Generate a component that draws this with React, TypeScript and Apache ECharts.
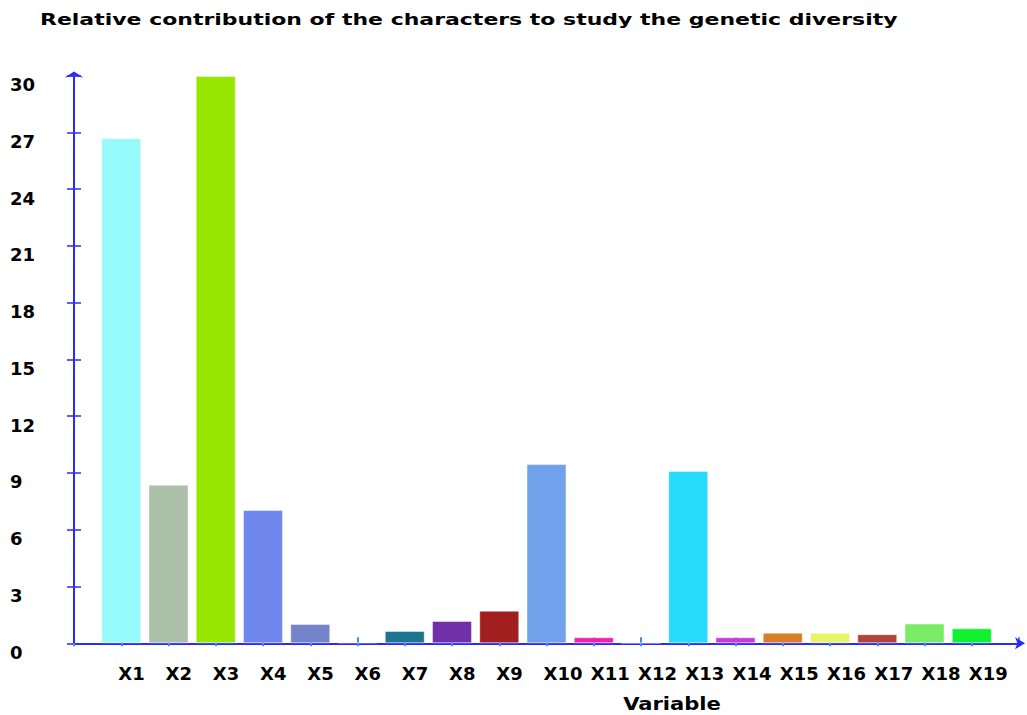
import React, { useEffect, useRef } from "react";
import * as echarts from "echarts";

const categories = ["X1","X2","X3","X4","X5","X6","X7","X8","X9","X10","X11","X12","X13","X14","X15","X16","X17","X18","X19"];
const contributions = [26.68, 8.38, 29.97, 7.04, 1.02, 0.05, 0.65, 1.18, 1.72, 9.47, 0.32, 0.03, 9.10, 0.32, 0.56, 0.56, 0.48, 1.04, 0.79];
const barColors = ["#96fafa","#abbfa9","#96e600","#7088ee","#7584c8","#9a4fa8","#1c7690","#7030a8","#a11f1f","#72a1ec","#f222a8","#a6a6c8","#27dbfa","#c83ae0","#d87f26","#e8f463","#b0443a","#78ec62","#10f230"];
const yTicks = { min: 0, max: 30, interval: 3 };
const titleText = "Relative contribution of the characters to study the genetic diversity";
const xName = "Variable";

const AXIS_BLUE = "#2a2aff";
const FONT = "DejaVu Sans";

export default function App() {
  const ref = useRef<HTMLDivElement>(null);
  useEffect(() => {
    if (!ref.current) return;
    const chart = echarts.init(ref.current, null, { renderer: "svg" });
    const xData = ["", ...categories, ""];
    const barData = [
      "-",
      ...contributions.map((v, i) => ({ value: v, itemStyle: { color: barColors[i] } })),
      "-",
    ];
    chart.setOption({
      animation: false,
      backgroundColor: "#ffffff",
      grid: { left: 74, right: 8, top: 75.5, bottom: 71.7, containLabel: false },
      graphic: [
        {
          type: "text",
          x: 40,
          y: 20,
          scaleX: 1.375,
          style: {
            text: titleText,
            font: `bold 16px "${FONT}"`,
            fill: "#000",
            verticalAlign: "middle",
            align: "left",
          },
        },
        {
          type: "text",
          x: 672,
          y: 704,
          scaleX: 1.24,
          style: {
            text: xName,
            font: `bold 17px "${FONT}"`,
            lineHeight: 17,
            fill: "#000",
            verticalAlign: "middle",
            align: "center",
          },
        },
      ],
      xAxis: [
        {
          type: "category",
          data: xData,
          boundaryGap: false,
          axisLine: {
            show: true,
            lineStyle: { color: AXIS_BLUE, width: 2 },
            symbol: ["none", "arrow"],
            symbolSize: [9, 10],
            symbolOffset: [0, 6],
          },
          axisTick: { show: true, length: 3, inside: false, lineStyle: { color: "#3a8cff", width: 2 } },
          axisLabel: {
            show: true,
            margin: 21,
            align: "left",
            color: "#000",
            fontFamily: FONT,
            fontWeight: "bold",
            fontSize: 18,
            interval: 0,
            padding: [0, 0, 0, -3],
          },
          splitLine: { show: false },
          z: 1,
        },
        {
          type: "category",
          data: xData,
          boundaryGap: false,
          position: "bottom",
          axisLine: { show: false },
          axisTick: { show: true, length: 6, inside: true, lineStyle: { color: "#3a8cff", width: 2 } },
          axisLabel: { show: false },
          splitLine: { show: false },
          z: 0,
        },
      ],
      yAxis: [
        {
          type: "value",
          min: yTicks.min,
          max: yTicks.max,
          interval: yTicks.interval,
          axisLine: {
            show: true,
            lineStyle: { color: AXIS_BLUE, width: 2 },
            symbol: ["none", "arrow"],
            symbolSize: [14, 6],
            symbolOffset: [0, 4],
          },
          axisTick: { show: true, length: 7, inside: false, lineStyle: { color: AXIS_BLUE, width: 1.5 } },
          axisLabel: {
            show: true,
            margin: 64,
            align: "left",
            verticalAlign: "top",
            color: "#000",
            fontFamily: FONT,
            fontWeight: "bold",
            fontSize: 18,
          },
          splitLine: { show: false },
          z: 1,
        },
        {
          type: "value",
          min: yTicks.min,
          max: yTicks.max,
          interval: yTicks.interval,
          position: "left",
          axisLine: { show: false },
          axisTick: { show: true, length: 7, inside: true, lineStyle: { color: AXIS_BLUE, width: 1.5 } },
          axisLabel: { show: false },
          splitLine: { show: false },
        },
      ],
      series: [
        {
          type: "bar",
          xAxisIndex: 0,
          yAxisIndex: 0,
          data: barData,
          barWidth: 40,
          itemStyle: { borderColor: "rgba(255,255,255,0.45)", borderWidth: 1 },
          z: 3,
        },
      ],
    });
    return () => chart.dispose();
  }, []);
  return (
    <div
      ref={ref}
      style={{ position: "fixed", left: 0, top: 0, width: 1027, height: 715 }}
    />
  );
}
